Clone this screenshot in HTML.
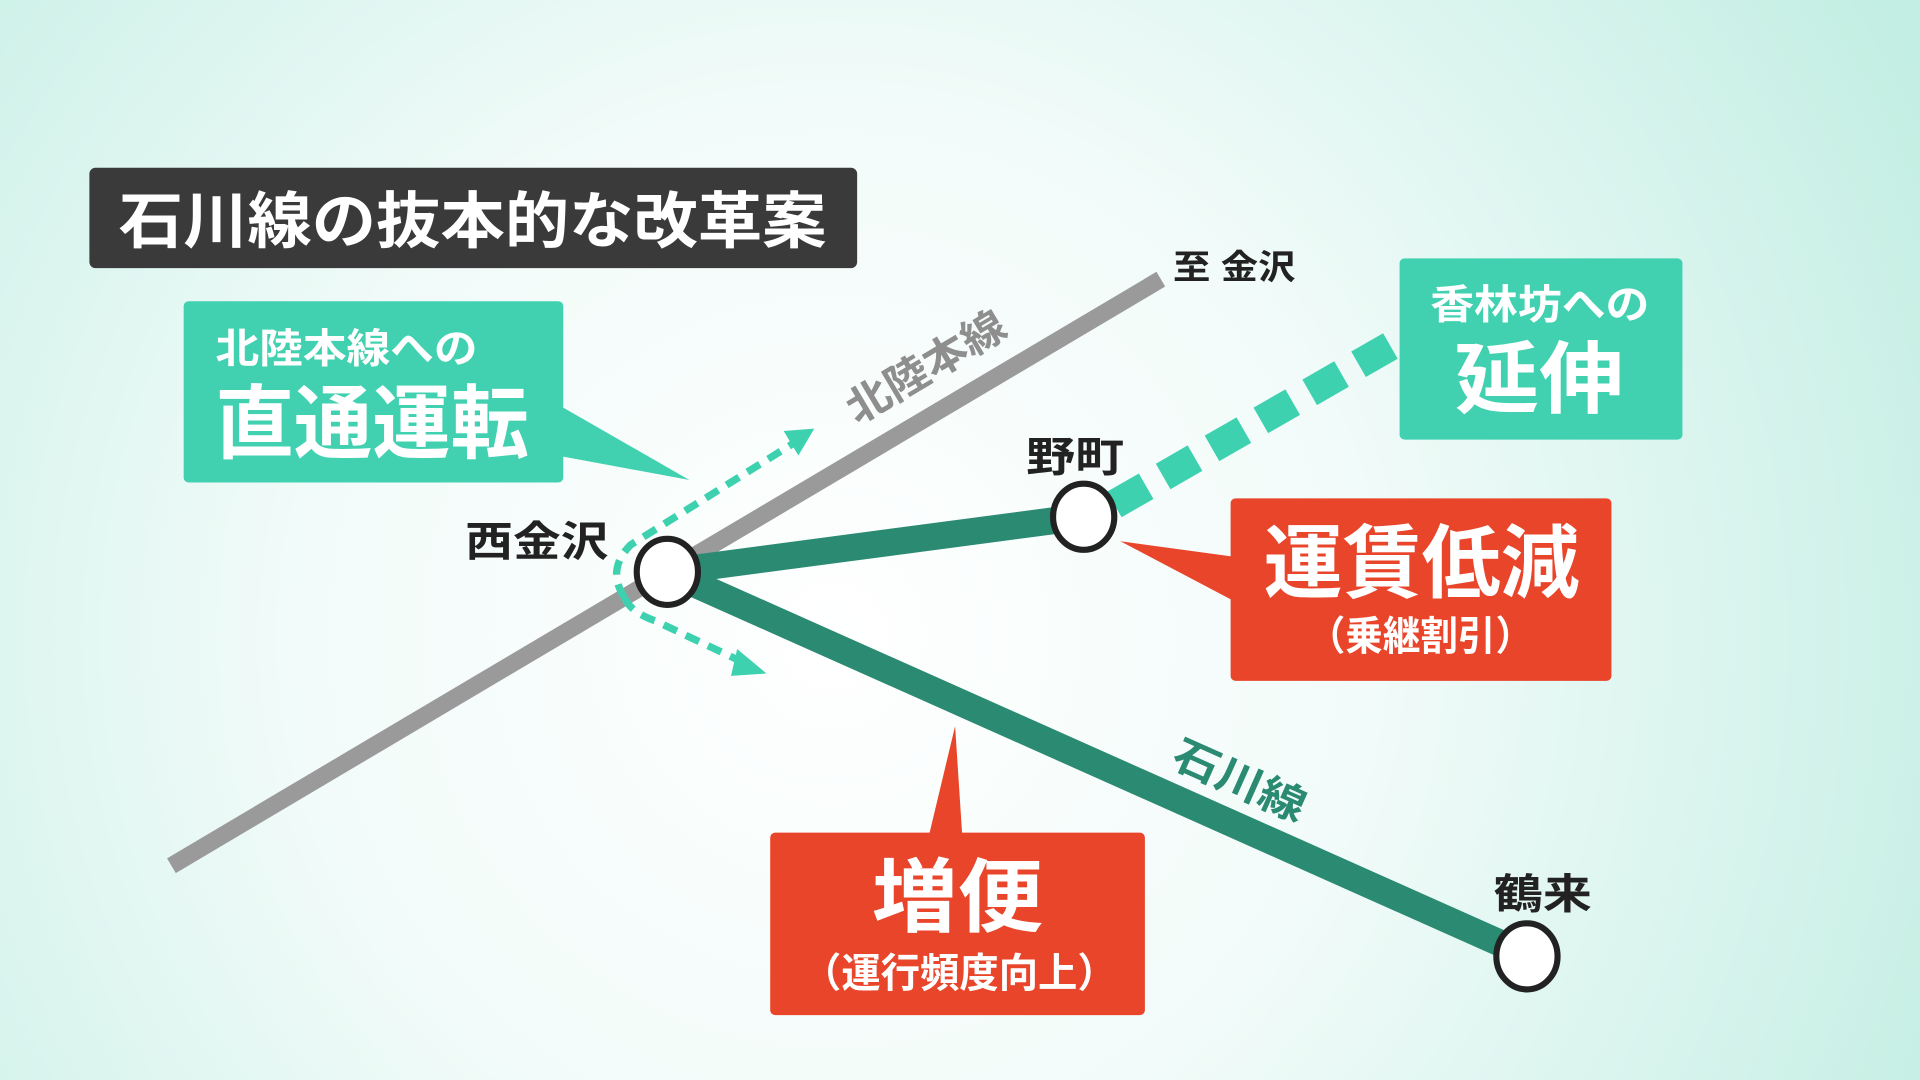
<!DOCTYPE html>
<html><head><meta charset="utf-8"><style>
html,body{margin:0;padding:0;width:1920px;height:1080px;overflow:hidden}
svg{display:block}
text{font-family:"Liberation Sans","Noto Sans CJK JP",sans-serif;font-weight:bold}
</style></head><body>
<svg width="1920" height="1080" viewBox="0 0 1568 882" preserveAspectRatio="none" xmlns="http://www.w3.org/2000/svg">
<defs>
<radialGradient id="bg" cx="680" cy="520" r="1000" gradientUnits="userSpaceOnUse">
<stop offset="0" stop-color="#ffffff"/><stop offset="0.45" stop-color="#f1fbf9"/><stop offset="1" stop-color="#c3eee3"/>
</radialGradient>
</defs>
<rect width="1568" height="882" fill="url(#bg)"/>
<!-- title -->
<rect x="73" y="137" width="627" height="82" rx="5" fill="#3a3a3a"/>
<text x="97" y="198" font-size="50" fill="#fff" textLength="578" lengthAdjust="spacingAndGlyphs">石川線の抜本的な改革案</text>
<!-- gray line -->
<line x1="140" y1="707" x2="948" y2="228" stroke="#9a9a9a" stroke-width="14"/>
<text x="958" y="228" font-size="28" fill="#222" textLength="100" lengthAdjust="spacingAndGlyphs">至 金沢</text>
<text transform="translate(700,347) rotate(-30.7)" font-size="34" fill="#8e8e8e" textLength="145" lengthAdjust="spacingAndGlyphs">北陸本線</text>
<!-- extension dashed -->
<line x1="910" y1="412" x2="1140" y2="280" stroke="#3dd1b0" stroke-width="24" stroke-dasharray="30,16"/>
<!-- green lines -->
<line x1="545" y1="467" x2="885" y2="422" stroke="#2a8a72" stroke-width="22"/>
<line x1="545" y1="467" x2="1247" y2="780" stroke="#2a8a72" stroke-width="22"/>
<text transform="translate(955,625) rotate(24)" font-size="34" fill="#2a8a72" textLength="115" lengthAdjust="spacingAndGlyphs">石川線</text>
<!-- dotted arrows -->
<path d="M510 488 Q495 465 515 445 L648 362" fill="none" stroke="#3dd1b0" stroke-width="6" stroke-dasharray="12,8"/>
<polygon points="665,350 640,352 652,372" fill="#3dd1b0"/>
<path d="M510 488 Q515 500 535 507 L605 540" fill="none" stroke="#3dd1b0" stroke-width="6" stroke-dasharray="12,8"/>
<polygon points="626,550 602,530 597,552" fill="#3dd1b0"/>
<!-- stations -->
<ellipse cx="545" cy="467" rx="25" ry="27" fill="#fff" stroke="#222" stroke-width="5"/>
<ellipse cx="885" cy="422" rx="25" ry="27" fill="#fff" stroke="#222" stroke-width="5"/>
<ellipse cx="1247" cy="781" rx="25" ry="27" fill="#fff" stroke="#222" stroke-width="5"/>
<text x="380" y="454" font-size="34" fill="#222" textLength="117" lengthAdjust="spacingAndGlyphs">西金沢</text>
<text x="838" y="385" font-size="34" fill="#222" textLength="80" lengthAdjust="spacingAndGlyphs">野町</text>
<text x="1220" y="742" font-size="34" fill="#222" textLength="80" lengthAdjust="spacingAndGlyphs">鶴来</text>
<!-- callout: direct -->
<polygon points="455,330 455,372 563,392" fill="#41d1b1"/>
<rect x="150" y="246" width="310" height="148" rx="4" fill="#41d1b1"/>
<text x="176" y="296" font-size="33" fill="#fff" textLength="214" lengthAdjust="spacingAndGlyphs">北陸本線への</text>
<text x="176" y="369" font-size="66" fill="#fff" textLength="256" lengthAdjust="spacingAndGlyphs">直通運転</text>
<!-- callout: extension -->
<rect x="1143" y="211" width="231" height="148" rx="4" fill="#41d1b1"/>
<text x="1168" y="260" font-size="33" fill="#fff" textLength="179" lengthAdjust="spacingAndGlyphs">香林坊への</text>
<text x="1188" y="332" font-size="64" fill="#fff" textLength="138" lengthAdjust="spacingAndGlyphs">延伸</text>
<!-- callout: fare -->
<polygon points="915,442 1010,455 1010,492" fill="#e8452a"/>
<rect x="1005" y="407" width="311" height="149" rx="4" fill="#e8452a"/>
<text x="1032" y="483" font-size="66" fill="#fff" textLength="258" lengthAdjust="spacingAndGlyphs">運賃低減</text>
<text x="1068" y="531" font-size="33" fill="#fff" textLength="184" lengthAdjust="spacingAndGlyphs">（乗継割引）</text>
<!-- callout: frequency -->
<polygon points="780,593 758,685 786,685" fill="#e8452a"/>
<rect x="629" y="680" width="306" height="149" rx="4" fill="#e8452a"/>
<text x="712" y="756" font-size="66" fill="#fff" textLength="140" lengthAdjust="spacingAndGlyphs">増便</text>
<text x="655" y="806" font-size="33" fill="#fff" textLength="257" lengthAdjust="spacingAndGlyphs">（運行頻度向上）</text>
</svg>
</body></html>
